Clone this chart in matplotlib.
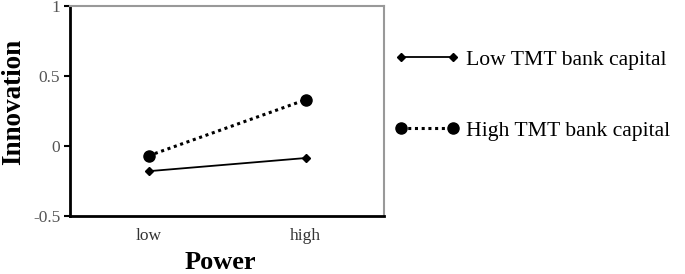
import matplotlib.pyplot as plt

categories = ['low', 'high']
low_tmt = [-0.18, -0.086]
high_tmt = [-0.07, 0.33]
yticks = [-0.5, 0, 0.5, 1]
yticklabels = ['-0.5', '0', '0.5', '1']

plt.rcParams['font.family'] = ['Liberation Serif', 'DejaVu Serif']

fig = plt.figure(figsize=(6.85, 2.74), dpi=100)
ax = fig.add_axes([70/685, 1 - 216/274, 314/685, 210/274])

x = range(len(categories))
ax.plot(x, low_tmt, color='black', lw=1.3, marker='D', ms=4.5, label='Low TMT bank capital')
ax.plot(x, high_tmt, color='black', lw=2.2, ls=(0, (1, 1.2)), marker='o', ms=8,
        label='High TMT bank capital')

ax.set_xlim(-0.5, 1.5)
ax.set_ylim(-0.5, 1)
ax.set_yticks(yticks)
ax.set_yticklabels(yticklabels)
ax.set_xticks(list(x))
ax.set_xticklabels(categories)
ax.tick_params(axis='x', length=0, pad=9, labelsize=12.5, labelcolor='#333333')
ax.tick_params(axis='y', length=4, width=1.5, direction='out', labelsize=12.5,
               labelcolor='#555555', pad=3)

for s in ['left', 'bottom']:
    ax.spines[s].set_linewidth(2)
    ax.spines[s].set_color('black')
for s in ['top', 'right']:
    ax.spines[s].set_linewidth(1.5)
    ax.spines[s].set_color('#999999')

ax.set_xlabel('Power', fontsize=19, fontweight='bold')
ax.set_ylabel('Innovation', fontsize=19.5, fontweight='bold')
ax.xaxis.set_label_coords(0.48, -0.165)
ax.yaxis.set_label_coords(-0.14, 0.543)

fig.legend(loc='upper left', bbox_to_anchor=(375/685, 1 - 30/274), frameon=False,
           fontsize=15.6, numpoints=2, handlelength=3.0, labelspacing=2.35, handletextpad=0.3)

fig.savefig('out.png', dpi=100)
